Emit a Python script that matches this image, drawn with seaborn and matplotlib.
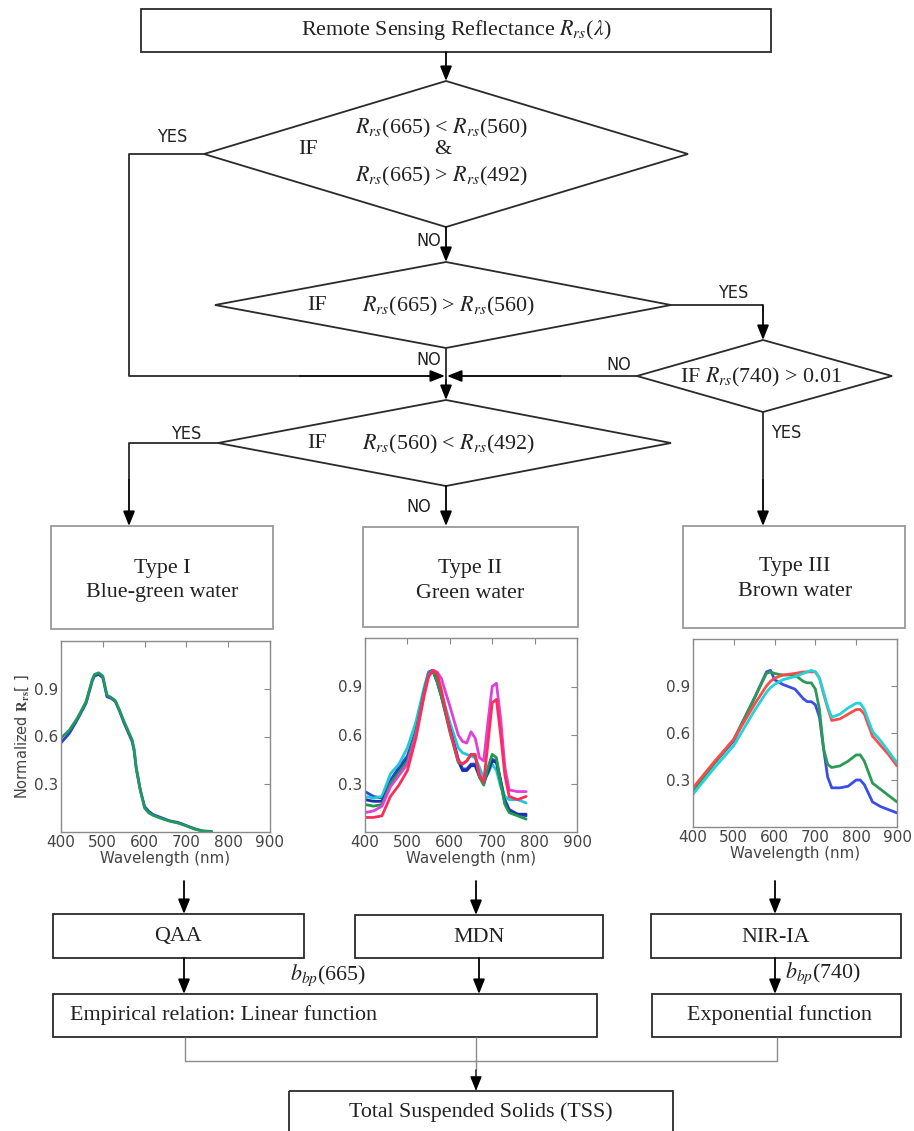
import numpy as np
import pandas as pd
import matplotlib
matplotlib.use("Agg")
import matplotlib.pyplot as plt
import seaborn as sns
from matplotlib.patches import Rectangle, Polygon

sns.set_style("white")
plt.rcParams["mathtext.fontset"] = "stix"
plt.rcParams["font.family"] = ["DejaVu Sans"]

# ---------------- data ----------------
wl_type1 = [400, 420, 440, 460, 475, 480, 490, 500, 510, 520, 530, 540, 550, 560, 570, 575,
            580, 590, 600, 610, 620, 640, 660, 680, 700, 720, 740, 760]
type1_blue = [0.56, 0.62, 0.71, 0.81, 0.95, 0.98, 0.99, 0.97, 0.85, 0.84, 0.82, 0.76, 0.69, 0.63,
              0.57, 0.51, 0.40, 0.26, 0.16, 0.13, 0.11, 0.09, 0.07, 0.06, 0.04, 0.02, 0.006, 0.004]
type1_green = [0.59, 0.64, 0.72, 0.82, 0.96, 0.99, 1.00, 0.98, 0.86, 0.845, 0.825, 0.765, 0.70, 0.64,
               0.58, 0.52, 0.40, 0.26, 0.15, 0.12, 0.105, 0.085, 0.068, 0.056, 0.038, 0.018, 0.005, 0.003]

wl_type2 = [400, 420, 440, 460, 480, 500, 520, 540, 550, 560, 570, 580, 600, 620, 630, 640, 650,
            660, 670, 680, 690, 700, 710, 720, 730, 740, 760, 780]
type2_blue = [0.25, 0.22, 0.21, 0.32, 0.40, 0.47, 0.63, 0.88, 0.99, 1.00, 0.94, 0.85, 0.65, 0.45, 0.39,
              0.39, 0.42, 0.42, 0.35, 0.31, 0.38, 0.45, 0.44, 0.32, 0.20, 0.14, 0.11, 0.10]
type2_cyan = [0.22, 0.21, 0.22, 0.36, 0.42, 0.52, 0.68, 0.90, 0.99, 0.99, 0.94, 0.86, 0.68, 0.52, 0.49,
              0.48, 0.47, 0.46, 0.40, 0.33, 0.36, 0.42, 0.38, 0.28, 0.22, 0.20, 0.20, 0.18]
type2_navy = [0.20, 0.19, 0.19, 0.30, 0.38, 0.45, 0.61, 0.87, 0.98, 1.00, 0.93, 0.84, 0.64, 0.44, 0.38,
              0.38, 0.41, 0.41, 0.34, 0.30, 0.37, 0.44, 0.43, 0.31, 0.18, 0.13, 0.11, 0.11]
type2_green = [0.17, 0.16, 0.17, 0.30, 0.37, 0.44, 0.62, 0.88, 0.98, 1.00, 0.93, 0.84, 0.62, 0.43, 0.42,
               0.44, 0.48, 0.47, 0.34, 0.29, 0.40, 0.48, 0.46, 0.30, 0.17, 0.12, 0.10, 0.08]
type2_magenta = [0.12, 0.13, 0.16, 0.28, 0.35, 0.42, 0.60, 0.86, 0.97, 1.00, 0.99, 0.95, 0.78, 0.60,
                 0.56, 0.55, 0.62, 0.58, 0.46, 0.44, 0.68, 0.90, 0.92, 0.70, 0.40, 0.26, 0.25, 0.25]
type2_red = [0.09, 0.09, 0.10, 0.22, 0.29, 0.38, 0.58, 0.85, 0.96, 1.00, 0.98, 0.88, 0.63, 0.44, 0.42,
             0.44, 0.48, 0.48, 0.35, 0.31, 0.55, 0.80, 0.82, 0.60, 0.35, 0.22, 0.20, 0.22]

wl_type3 = [400, 450, 500, 550, 580, 590, 600, 620, 650, 670, 680, 690, 700, 710, 720, 730, 740,
            760, 780, 800, 810, 820, 840, 860, 880, 900]
type3_blue = [0.24, 0.40, 0.55, 0.82, 0.99, 1.00, 0.94, 0.91, 0.88, 0.82, 0.80, 0.80, 0.78, 0.70, 0.50,
              0.32, 0.25, 0.25, 0.26, 0.30, 0.30, 0.27, 0.16, 0.13, 0.11, 0.09]
type3_green = [0.23, 0.40, 0.56, 0.82, 0.98, 0.99, 0.98, 0.97, 0.97, 0.93, 0.92, 0.92, 0.88, 0.75, 0.50,
               0.40, 0.38, 0.39, 0.42, 0.46, 0.46, 0.42, 0.28, 0.24, 0.20, 0.16]
type3_red = [0.25, 0.41, 0.56, 0.78, 0.90, 0.93, 0.95, 0.97, 0.98, 0.99, 0.99, 0.99, 0.99, 0.95, 0.85,
             0.76, 0.68, 0.69, 0.72, 0.75, 0.75, 0.72, 0.58, 0.52, 0.46, 0.39]
type3_cyan = [0.21, 0.37, 0.52, 0.74, 0.86, 0.89, 0.91, 0.94, 0.96, 0.98, 0.99, 1.00, 0.99, 0.95, 0.86,
              0.77, 0.70, 0.72, 0.76, 0.79, 0.79, 0.75, 0.61, 0.55, 0.48, 0.41]

x_ticks = [400, 500, 600, 700, 800, 900]
y_ticks = [0.3, 0.6, 0.9]


def long_frame(wl, series):
    rows = []
    for name, vals in series.items():
        for w, v in zip(wl, vals):
            rows.append({"wl": w, "val": v, "series": name})
    return pd.DataFrame(rows)


# ---------------- figure ----------------
W, H = 914, 1131
fig = plt.figure(figsize=(W / 100, H / 100), dpi=100)
ax = fig.add_axes([0, 0, 1, 1])
ax.set_xlim(0, W)
ax.set_ylim(H, 0)
ax.axis("off")

SERIF = ["Liberation Serif", "DejaVu Serif"]
LC = "#2a2a2a"
FS = 15.8


def box(x0, y0, x1, y1, ec=LC, lw=1.3):
    ax.add_patch(Rectangle((x0, y0), x1 - x0, y1 - y0, fill=False, ec=ec, lw=lw))


def diamond(cx, top, bottom, left, right, lw=1.3):
    cy = (top + bottom) / 2
    ax.add_patch(Polygon([(cx, top), (right, cy), (cx, bottom), (left, cy)],
                         closed=True, fill=False, ec=LC, lw=lw))


def line(xs, ys, color=LC, lw=1.3):
    ax.plot(xs, ys, color=color, lw=lw, solid_capstyle="butt")


def arrow(x0, y0, x1, y1, lw=1.3):
    ax.annotate("", xy=(x1, y1), xytext=(x0, y0),
                arrowprops=dict(arrowstyle="-|>,head_length=0.8,head_width=0.32",
                                color="black", lw=lw, shrinkA=0, shrinkB=0,
                                mutation_scale=11))


def stext(x, y, s, ha="center", size=FS):
    ax.text(x, y, s, ha=ha, va="center", family=SERIF, fontsize=size, color="#222")


def ntext(x, y, s):
    ax.text(x, y, s, ha="center", va="center", family="DejaVu Sans",
            fontstretch="condensed", fontsize=13, color="#222")


# top box
box(141, 9, 771, 52)
stext(456, 30, r"Remote Sensing Reflectance $R_{rs}$($\lambda$)")
arrow(446, 52, 446, 81)

# diamond 1
diamond(446, 81, 227, 204, 688)
stext(308, 150, "IF")
stext(441, 128, r"$R_{rs}$(665) < $R_{rs}$(560)")
stext(443, 150, "&")
stext(441, 176, r"$R_{rs}$(665) > $R_{rs}$(492)")
ntext(172, 137, "YES")
line([204, 129, 129, 300], [154, 154, 376, 376])
arrow(300, 376, 445, 376)
ntext(429, 241, "NO")
arrow(446, 227, 446, 262)

# diamond 2
diamond(446, 262, 348, 215, 671)
stext(317, 306, "IF")
stext(448, 306, r"$R_{rs}$(665) > $R_{rs}$(560)")
ntext(733, 293, "YES")
line([671, 763], [305, 305])
arrow(763, 305, 763, 340)
ntext(429, 360, "NO")
line([446, 446], [348, 380])
arrow(446, 380, 446, 400)

# diamond 3
diamond(763, 340, 412, 637, 892)
stext(761, 377, r"IF $R_{rs}$(740) > 0.01")
ntext(619, 365, "NO")
line([637, 560], [376, 376])
arrow(560, 376, 447, 376)
ntext(786, 433, "YES")
line([763, 763], [412, 480])
arrow(763, 480, 763, 526)

# diamond 4
diamond(446, 400, 486, 218, 671)
stext(317, 444, "IF")
stext(448, 444, r"$R_{rs}$(560) < $R_{rs}$(492)")
ntext(186, 434, "YES")
line([218, 129, 129], [443, 443, 480])
arrow(129, 480, 129, 526)
ntext(419, 507, "NO")
arrow(446, 486, 446, 526)

# type boxes
GB = "#9a9a9a"
box(51, 526, 273, 629, ec=GB)
box(363, 527, 578, 627, ec=GB)
box(683, 526, 905, 628, ec=GB)
stext(162, 568, "Type I")
stext(162, 593, "Blue-green water")
stext(470, 568, "Type II")
stext(470, 593, "Green water")
stext(795, 567, "Type III")
stext(795, 592, "Brown water")

# spectra plots
panels = [
    ((61, 641, 270, 832), wl_type1,
     {"a": type1_blue, "b": type1_green}, ["#2b3fd6", "#1f9a5a"], True),
    ((365, 638, 577, 832), wl_type2,
     {"a": type2_blue, "b": type2_cyan, "c": type2_navy, "d": type2_green,
      "e": type2_magenta, "f": type2_red},
     ["#2b44e0", "#22c8d8", "#1d2fa8", "#1f9a4a", "#e040d8", "#ff2c5a"], False),
    ((693, 639, 897, 827), wl_type3,
     {"a": type3_blue, "b": type3_green, "c": type3_red, "d": type3_cyan},
     ["#3a4ee6", "#2a9a55", "#ff4a4a", "#22d4d8"], False),
]
for (x0, y0, x1, y1), wl, series, colors, ylab in panels:
    pax = fig.add_axes([x0 / W, 1 - y1 / H, (x1 - x0) / W, (y1 - y0) / H])
    df = long_frame(wl, series)
    sns.lineplot(data=df, x="wl", y="val", hue="series", palette=colors,
                 linewidth=2.0, legend=False, ax=pax, sort=False)
    pax.set_xlim(400, 900)
    pax.set_ylim(0, 1.2)
    pax.set_xticks(x_ticks)
    pax.set_yticks(y_ticks)
    pax.set_yticklabels([f"{t:.1f}" for t in y_ticks])
    pax.tick_params(direction="in", top=True, right=True, length=4, width=0.8,
                    color="#888888", labelcolor="#444444", labelsize=11, pad=2)
    for sp in pax.spines.values():
        sp.set_color("#8a8a8a")
        sp.set_linewidth(1.0)
    pax.set_xlabel("Wavelength (nm)", fontsize=10.8, color="#444444", labelpad=1)
    if ylab:
        pax.set_ylabel(r"Normalized $\mathbf{R}_{\mathbf{rs}}$[ ]", fontsize=10.5,
                       color="#444444", labelpad=2)
    else:
        pax.set_ylabel("")

# arrows to algorithm boxes
arrow(184, 881, 184, 914)
arrow(476, 881, 476, 915)
arrow(775, 881, 775, 914)

box(53, 914, 304, 958)
box(355, 915, 603, 958)
box(651, 914, 901, 958)
stext(178, 936, "QAA")
stext(479, 937, "MDN")
stext(776, 937, "NIR-IA")

arrow(184, 958, 184, 994)
arrow(479, 958, 479, 994)
arrow(775, 958, 775, 994)
stext(328, 975, r"$b_{bp}$(665)")
stext(823, 973, r"$b_{bp}$(740)")

box(53, 994, 597, 1037)
box(652, 994, 901, 1037)
stext(70, 1015, "Empirical relation: Linear function", ha="left")
stext(779, 1015, "Exponential function")

# connectors to TSS
GC = "#8c8c8c"
line([185, 185, 777, 777], [1037, 1061, 1061, 1037], color=GC, lw=1.0)
line([476, 476], [1037, 1070], color=GC, lw=1.0)
arrow(476, 1070, 476, 1091, lw=1.0)
box(289, 1091, 673, 1145)
stext(481, 1112, "Total Suspended Solids (TSS)")

fig.savefig("out.png", dpi=100)
